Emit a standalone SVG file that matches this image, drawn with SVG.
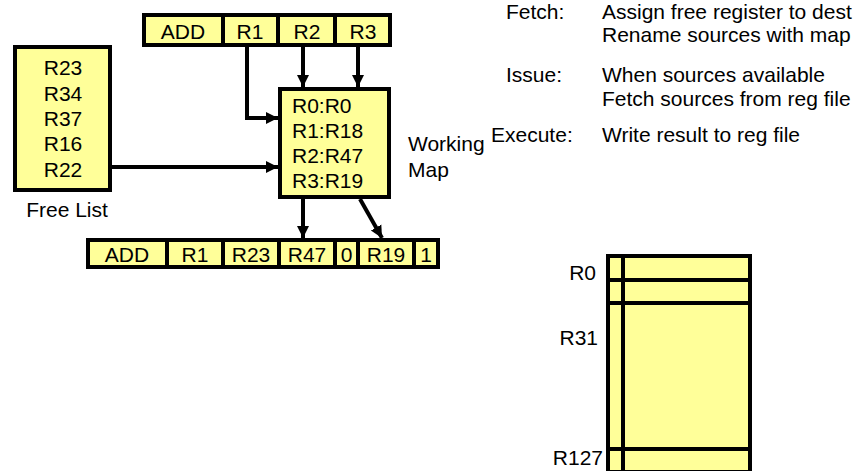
<svg xmlns="http://www.w3.org/2000/svg" width="859" height="471" viewBox="0 0 859 471">
<style>
.cell{fill:#FFFF99;stroke:#000;stroke-width:4}
.t{font-family:"Liberation Sans",Arial,sans-serif;font-size:21px;fill:#000}
.m{text-anchor:middle}
.e{text-anchor:end}
.w{stroke:#000;stroke-width:4;fill:none}
.c{stroke:#000;stroke-width:4;fill:none}
</style>
<defs>
<marker id="ah" markerUnits="userSpaceOnUse" markerWidth="14" markerHeight="14" viewBox="0 0 14 14" refX="12" refY="7" orient="auto">
<path d="M0,1 L12,7 L0,13 Z" fill="#000"/>
</marker>
</defs>
<rect width="859" height="471" fill="#fff"/>

<g id="instr-top">
<rect class="cell" x="144" y="15" width="79" height="30"/>
<rect class="cell" x="223" y="15" width="55" height="30"/>
<rect class="cell" x="278" y="15" width="57" height="30"/>
<rect class="cell" x="335" y="15" width="55" height="30"/>
<text class="t m" x="183" y="39">ADD</text>
<text class="t m" x="250" y="39">R1</text>
<text class="t m" x="307" y="39">R2</text>
<text class="t m" x="363" y="39">R3</text>
</g>

<g id="free-list">
<rect class="cell" x="15" y="47" width="95" height="143"/>
<text class="t m" x="63" y="75">R23</text>
<text class="t m" x="63" y="100.5">R34</text>
<text class="t m" x="63" y="126">R37</text>
<text class="t m" x="63" y="151">R16</text>
<text class="t m" x="63" y="176.5">R22</text>
<text class="t m" x="67" y="217">Free List</text>
</g>

<g id="working-map">
<rect class="cell" x="280" y="89" width="109" height="108"/>
<text class="t" x="292" y="113">R0:R0</text>
<text class="t" x="292" y="138">R1:R18</text>
<text class="t" x="292" y="163">R2:R47</text>
<text class="t" x="292" y="188">R3:R19</text>
<text class="t" x="408" y="151">Working</text>
<text class="t" x="408" y="177">Map</text>
</g>

<g id="instr-bottom">
<rect class="cell" x="88" y="240" width="79" height="27"/>
<rect class="cell" x="167" y="240" width="56" height="27"/>
<rect class="cell" x="223" y="240" width="56" height="27"/>
<rect class="cell" x="279" y="240" width="56" height="27"/>
<rect class="cell" x="335" y="240" width="23" height="27"/>
<rect class="cell" x="358" y="240" width="56" height="27"/>
<rect class="cell" x="414" y="240" width="24" height="27"/>
<text class="t m" x="127" y="262">ADD</text>
<text class="t m" x="195" y="262">R1</text>
<text class="t m" x="251" y="262">R23</text>
<text class="t m" x="307" y="262">R47</text>
<text class="t m" x="346.5" y="262">0</text>
<text class="t m" x="386" y="262">R19</text>
<text class="t m" x="426" y="262">1</text>
</g>

<g id="reg-file">
<rect class="cell" x="608" y="256" width="142" height="216"/>
<line class="w" x1="623" y1="254" x2="623" y2="471"/>
<line class="w" x1="606" y1="280" x2="752" y2="280"/>
<line class="w" x1="606" y1="303" x2="752" y2="303"/>
<line class="w" x1="606" y1="449" x2="752" y2="449"/>
<text class="t e" x="596" y="280">R0</text>
<text class="t e" x="598" y="345">R31</text>
<text class="t e" x="603" y="465">R127</text>
</g>

<g id="notes">
<text class="t" x="506" y="19">Fetch:</text>
<text class="t" x="602" y="19">Assign free register to dest</text>
<text class="t" x="602" y="42">Rename sources with map</text>
<text class="t" x="506" y="82">Issue:</text>
<text class="t" x="602" y="82">When sources available</text>
<text class="t" x="602" y="106">Fetch sources from reg file</text>
<text class="t" x="491" y="142">Execute:</text>
<text class="t" x="602" y="142">Write result to reg file</text>
</g>

<g id="connectors">
<path class="c" d="M247,47 V118 H278" marker-end="url(#ah)"/>
<path class="c" d="M303,47 V87" marker-end="url(#ah)"/>
<path class="c" d="M358,47 V87" marker-end="url(#ah)"/>
<path class="c" d="M112,167 H278" marker-end="url(#ah)"/>
<path class="c" d="M303,199 V238" marker-end="url(#ah)"/>
<path class="c" d="M360,199 L382,238" marker-end="url(#ah)"/>
</g>
</svg>
